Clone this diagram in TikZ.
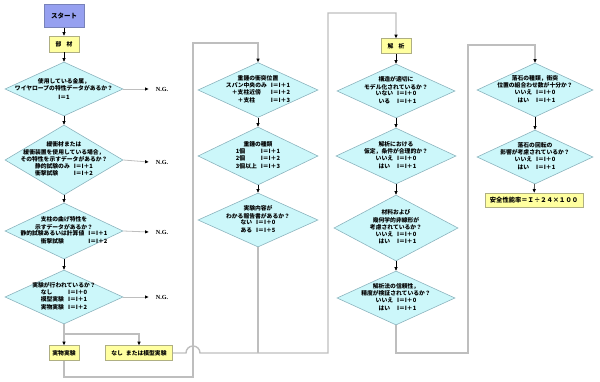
\documentclass[tikz,border=0pt]{standalone}
\usepackage{fontspec}
\setmainfont{Noto Sans CJK JP}
\newfontfamily\ngfont{Liberation Serif}
\usetikzlibrary{shapes.geometric,arrows.meta}

\definecolor{startblue}{RGB}{150,160,240}
\definecolor{startline}{RGB}{120,130,185}
\definecolor{boxyellow}{RGB}{255,255,160}
\definecolor{boxline}{RGB}{175,175,130}
\definecolor{decfill}{RGB}{204,247,250}
\definecolor{decline}{RGB}{140,180,190}
\definecolor{linkgray}{RGB}{190,190,190}

% score lines inside a decision
\newcommand\score[2]{\begin{tabular}{@{}#1@{\hspace{4pt}}l@{}}#2\end{tabular}}

\begin{document}
\begin{tikzpicture}[x=1pt,y=-1pt,
  every node/.style={font=\fontsize{5.8}{7.4}\selectfont\bfseries},
  dec/.style={diamond,draw=decline,fill=decfill,line width=0.6pt,inner sep=0pt},
  txt/.style={align=center,inner sep=0pt},
  box/.style={draw=boxline,fill=boxyellow,line width=0.6pt,inner sep=0pt},
  startbox/.style={draw=startline,fill=startblue,line width=0.8pt,inner sep=0pt,
    font=\fontsize{6.5}{7.5}\selectfont\bfseries},
  ng/.style={font=\fontsize{6.2}{7}\selectfont\ngfont\bfseries,inner xsep=7pt},
  arr/.style={-{Triangle[length=3.5pt,width=3pt]},line width=0.6pt,black},
  link/.style={draw=linkgray,line width=1.4pt},
  linkarr/.style={link,-{Triangle[length=3.5pt,width=3pt,color=black]}}
]
\useasboundingbox (0,0) rectangle (600,382);

% column 1: members
\node[startbox,minimum width=40pt,minimum height=23pt] (start) at (64,16) {スタート};
\node[box,minimum width=30pt,minimum height=16pt] (mat) at (64,44) {部\hspace{5pt}材};

\node[dec,minimum width=118pt,minimum height=54pt] (d1) at (64,89) {};
\node[txt] (t1) at (d1) {使用している金属，\\ワイヤロープの特性データがあるか？\\[1pt]I＝1};

\node[dec,minimum width=118pt,minimum height=70pt] (d2) at (64,160) {};
\node[txt] (t2) at (d2) {緩衝材または\\緩衝装置を使用している場合，\\その特性を示すデータがあるか？\\
  \score{l}{静的試験のみ & I＝I＋1\\衝撃試験 & I＝I＋2}};

\node[dec,minimum width=118pt,minimum height=56pt] (d3) at (64,231) {};
\node[txt] (t3) at (d3) {支柱の曲げ特性を\\示すデータがあるか？\\
  \score{c}{静的試験あるいは計算値 & I＝I＋1\\衝撃試験 & I＝I＋2}};

\node[dec,minimum width=118pt,minimum height=54pt] (d4) at (64,297) {};
\node[txt] (t4) at (d4) {実験が行われているか？\\
  \score{l}{なし & I＝I＋0\\模型実験 & I＝I＋1\\実物実験 & I＝I＋2}};

\node[ng] (ng1) at (162,89) {N.G.};
\node[ng] (ng2) at (162,162) {N.G.};
\node[ng] (ng3) at (162,232) {N.G.};
\node[ng] (ng4) at (162,297) {N.G.};

\node[box,minimum width=30pt,minimum height=15pt] (exp1) at (64,353) {実物実験};
\node[box,minimum width=67pt,minimum height=15pt] (exp2) at (139,353) {なし\hspace{3pt}または模型実験};

% column 2: tests
\node[dec,minimum width=120pt,minimum height=55pt] (d5) at (258,90) {};
\node[txt] (t5) at (d5) {重錘の衝突位置\\
  \score{c}{スパン中央のみ & I＝I＋1\\＋支柱近傍 & I＝I＋2\\＋支柱 & I＝I＋3}};

\node[dec,minimum width=120pt,minimum height=58pt] (d6) at (258,156) {};
\node[txt] (t6) at (d6) {重錘の種類\\
  \score{l}{1個 & I＝I＋1\\2個 & I＝I＋2\\3個以上 & I＝I＋3}};

\node[dec,minimum width=120pt,minimum height=54pt] (d7) at (258,220) {};
\node[txt] (t7) at (d7) {実験内容が\\わかる報告書があるか？\\
  \score{l}{ない & I＝I＋0\\ある & I＝I＋5}};

% column 3: analysis
\node[box,minimum width=30pt,minimum height=15pt] (ana) at (396,46) {解\hspace{5pt}析};

\node[dec,minimum width=118pt,minimum height=54pt] (d8) at (396,91) {};
\node[txt] (t8) at (d8) {構造が適切に\\モデル化されているか？\\
  \score{c}{いない & I＝I＋0\\いる & I＝I＋1}};

\node[dec,minimum width=120pt,minimum height=56pt] (d9) at (396,156) {};
\node[txt] (t9) at (d9) {解析における\\仮定，条件が合理的か？\\
  \score{c}{いいえ & I＝I＋0\\はい & I＝I＋1}};

\node[dec,minimum width=124pt,minimum height=66pt] (d10) at (396,228) {};
\node[txt] (t10) at (d10) {材料および\\幾何学的非線形が\\考慮されているか？\\
  \score{c}{いいえ & I＝I＋0\\はい & I＝I＋1}};

\node[dec,minimum width=118pt,minimum height=54pt] (d11) at (396,298) {};
\node[txt] (t11) at (d11) {解析法の信頼性，\\精度が検証されているか？\\
  \score{c}{いいえ & I＝I＋0\\はい & I＝I＋1}};

% column 4: falling rocks
\node[dec,minimum width=116pt,minimum height=54pt] (d12) at (535,90) {};
\node[txt] (t12) at (d12) {落石の種類，衝突\\位置の組合わせ数が十分か？\\
  \score{c}{いいえ & I＝I＋0\\はい & I＝I＋1}};

\node[dec,minimum width=116pt,minimum height=54pt] (d13) at (535,157) {};
\node[txt] (t13) at (d13) {落石の回転の\\影響が考慮されているか？\\
  \score{c}{いいえ & I＝I＋0\\はい & I＝I＋1}};

\node[box,minimum width=98pt,minimum height=14pt,font=\fontsize{6.3}{7.5}\selectfont\bfseries]
  (res) at (534,200) {安全性能率＝Ｉ÷２４×１００};

% corner points of the long links
\coordinate (j1) at (64,334);
\coordinate (c1) at (193,377);
\coordinate (c2) at (193,43);
\coordinate (hop) at (186,353);
\coordinate (j2) at (258,353);
\coordinate (c3) at (328,353);
\coordinate (c4) at (328,13);
\coordinate (c5) at (468,353);
\coordinate (c6) at (468,45);

% steps
\draw[arr] (start) -- (mat);
\draw[arr] (mat) -- (d1);
\draw[arr] (d1) -- (d2);
\draw[arr] (d2) -- (d3);
\draw[arr] (d3) -- (d4);
\draw[arr] (d5) -- (d6);
\draw[arr] (d6) -- (d7);
\draw[arr] (ana) -- (d8);
\draw[arr] (d8) -- (d9);
\draw[arr] (d9) -- (d10);
\draw[arr] (d10) -- (d11);
\draw[arr] (d12) -- (d13);
\draw[arr] (d13) -- (res);

% N.G. exits
\draw[linkarr,line width=0.8pt] (d1.east) -- (ng1.west);
\draw[linkarr,line width=0.8pt] (d2.east) -- (ng2.west);
\draw[linkarr,line width=0.8pt] (d3.east) -- (ng3.west);
\draw[linkarr,line width=0.8pt] (d4.east) -- (ng4.west);

% long links
\draw[link] (d4.south) -- (j1);
\draw[linkarr] (j1) -- (exp1.north);
\draw[linkarr] (j1) -| (exp2.north);
\draw[linkarr] (exp1.south) |- (c1) -- (c2) -| (d5.north);
\draw[link] (d7.south) -- (j2);
\draw[linkarr] (exp2.east) -- (hop) arc[start angle=180,end angle=0,radius=7pt]
  -- (j2) -- (c3) -- (c4) -| (ana.north);
\draw[linkarr] (d11.south) |- (c5) -- (c6) -| (d12.north);
\end{tikzpicture}
\end{document}
